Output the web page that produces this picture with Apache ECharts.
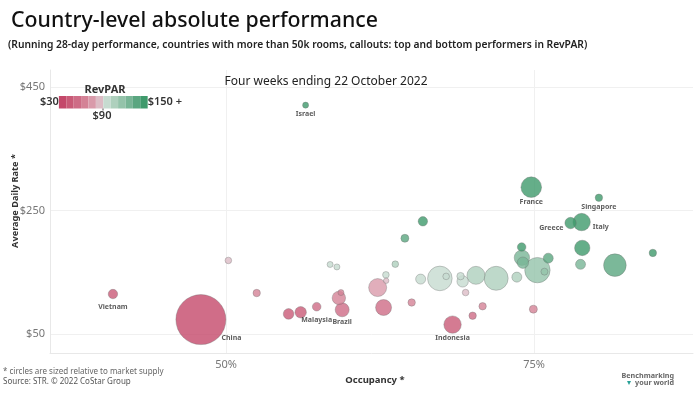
<!DOCTYPE html>
<html><head><meta charset="utf-8">
<script src="https://cdn.jsdelivr.net/npm/echarts@6/dist/echarts.min.js"></script>
<style>html,body{margin:0;padding:0;background:#fff}#c{width:700px;height:394px}</style>
</head><body><div id="c"></div>
<script>
// ---- data ----
const names = ['Israel','Vietnam','China','','','','','Malaysia','','','','','Brazil','','','','','','','','','','','','Indonesia','','','','','','','','','','','','France','','','','','Greece','','Italy','','Singapore','',''];
const occupancy = [56.45,40.81,47.95,50.18,52.48,55.07,56.05,57.35,58.44,58.99,59.32,59.15,59.42,62.30,62.78,62.97,62.99,63.73,64.51,65.06,65.79,65.97,67.35,67.86,68.38,69.03,69.20,69.44,70.01,70.28,70.82,71.92,73.60,73.99,74.01,74.09,74.77,74.94,75.27,75.84,76.15,77.96,78.77,78.86,78.91,80.26,81.56,84.64];
const adr = [420.5,114.5,73.1,168.9,116.1,82.3,85.0,94.0,162.4,158.4,116.9,108.2,89.0,125.0,92.7,145.6,136.0,162.9,204.8,100.8,138.7,232.3,139.8,143.1,65.0,143.5,135.0,116.9,79.4,144.8,94.7,140.0,141.9,190.6,173.4,165.3,287.6,90.0,153.2,150.8,172.6,229.5,162.6,231.1,189.2,270.5,161.3,181.1];
const supply = [68,166,4688,82,103,211,244,139,68,68,68,337,368,608,480,82,55,82,120,103,188,166,1135,82,568,103,244,82,103,608,103,1080,188,139,445,244,796,120,1210,92,188,244,188,568,445,103,958,103];
const xTicks = [50, 75];
const yTicks = [50, 250, 450];
const revparBreaks = [40,50,60,70,80,90,100,110,120,130,140];
const revparEnds = ['$30', '$150 +'];
const revparMid = '$90';

// ---- styles ----
const pieceColors = ['#c4486a','#c95a77','#ce6c86','#d48296','#d99aaa','#dcbcc5','#c6dbd0','#aed0bd','#94c3aa','#78b596','#5aa680','#3f9a6c'];
const labelCfg = {
  Israel:{position:'bottom',distance:2},
  Vietnam:{position:'bottom',distance:4},
  China:{position:[46,44],verticalAlign:'middle',align:'left'},
  Malaysia:{position:'bottom',distance:5},
  Brazil:{position:'bottom',distance:1},
  Indonesia:{position:'bottom',distance:1},
  France:{position:'bottom',distance:1},
  Singapore:{position:'bottom',distance:2},
  Greece:{position:'left',distance:1,offset:[0,5]},
  Italy:{position:'right',distance:2,offset:[0,5]}
};

const pieces = [];
pieces.push({lt: revparBreaks[0]});
for (let i = 0; i < revparBreaks.length - 1; i++) pieces.push({gte: revparBreaks[i], lt: revparBreaks[i+1]});
pieces.push({gte: revparBreaks[revparBreaks.length-1]});
pieces.forEach((p,i)=>{ p.color = pieceColors[i]; });

const pts = names.map((n,i)=>({
  value:[occupancy[i], adr[i], supply[i], occupancy[i]/100*adr[i]],
  name:n,
  label: n ? Object.assign({show:true}, labelCfg[n]) : {show:false}
}));
pts.sort((a,b)=>b.value[2]-a.value[2]);

const FONT = 'Noto Sans';
const chart = echarts.init(document.getElementById('c'), null, {renderer:'canvas'});
chart.setOption({
  backgroundColor:'#fff',
  animation:false,
  textStyle:{fontFamily:FONT},
  title:[
    {text:'Country-level absolute performance', left:11, top:10, padding:0, textStyle:{fontFamily:FONT, fontSize:21.3, fontWeight:500, color:'#111'}},
    {text:'(Running 28-day performance, countries with more than 50k rooms, callouts: top and bottom performers in RevPAR)', left:8, top:40, padding:0, textStyle:{fontFamily:FONT, fontSize:10.25, fontWeight:600, color:'#222'}},
    {text:'Four weeks ending 22 October 2022', left:326, top:76, padding:0, textAlign:'center', textStyle:{fontFamily:FONT, fontSize:12, fontWeight:'normal', color:'#222'}}
  ],
  grid:{left:50, right:7, top:70, bottom:41, containLabel:false},
  xAxis:{type:'value', min:35.7, max:87.9,
    axisLine:{show:true, lineStyle:{color:'#e8e8e8'}},
    axisTick:{show:false, customValues:xTicks},
    axisLabel:{customValues:xTicks, formatter:v=>v+'%', color:'#777', fontSize:11, margin:6},
    splitLine:{show:true, lineStyle:{color:'#f0f0f0'}}
  },
  yAxis:{type:'value', min:19, max:477.4,
    axisLine:{show:true, lineStyle:{color:'#e8e8e8'}},
    axisTick:{show:false, customValues:yTicks},
    axisLabel:{customValues:yTicks, formatter:v=>'$'+v, color:'#777', fontSize:11, margin:5},
    splitLine:{show:true, lineStyle:{color:'#f0f0f0'}}
  },
  visualMap:{type:'piecewise', dimension:3, seriesIndex:0, orient:'horizontal',
    left:25, top:81, itemWidth:7.4, itemHeight:12.5, itemGap:0, itemSymbol:'rect',
    text:[revparEnds[1], revparEnds[0]], textGap:3,
    textStyle:{fontFamily:FONT, fontSize:11, fontWeight:600, color:'#333'},
    pieces:pieces, selectedMode:false, hoverLink:false
  },
  series:[{
    type:'scatter',
    data:pts,
    symbolSize:v=>2*Math.sqrt(v[2]/7.5),
    itemStyle:{opacity:0.8, borderColor:'rgba(110,110,110,0.55)', borderWidth:0.8},
    label:{formatter:p=>p.name, fontFamily:FONT, fontSize:7, fontWeight:'bold', color:'#333'},
    emphasis:{disabled:true}
  }],
  graphic:[
    {type:'text', z:100, x:105, y:90, style:{text:'RevPAR', font:'bold 11px "Noto Sans"', fill:'#333', align:'center', verticalAlign:'middle'}},
    {type:'text', z:100, x:102, y:116, style:{text:revparMid, font:'600 11px "Noto Sans"', fill:'#333', align:'center', verticalAlign:'middle'}},
    {type:'rect', z:100, shape:{x:102.5, y:108.5, width:1, height:2}, style:{fill:'#555'}},
    {type:'text', z:100, x:15.7, y:201, rotation:Math.PI/2, style:{text:'Average Daily Rate *', font:'bold 9.2px "Noto Sans"', fill:'#333', align:'center', verticalAlign:'middle'}},
    {type:'text', z:100, x:375, y:380, style:{text:'Occupancy *', font:'bold 9.5px "Noto Sans"', fill:'#333', align:'center', verticalAlign:'middle'}},
    {type:'text', z:100, x:3, y:372, style:{text:'* circles are sized relative to market supply', font:'8px "Noto Sans"', fill:'#666', verticalAlign:'middle'}},
    {type:'text', z:100, x:3, y:382, style:{text:'Source: STR. \u00A9 2022 CoStar Group', font:'8px "Noto Sans"', fill:'#555', verticalAlign:'middle'}},
    {type:'text', z:100, x:674, y:376, style:{text:'Benchmarking', font:'bold 7.2px "Noto Sans"', fill:'#666', align:'right', verticalAlign:'middle'}},
    {type:'text', z:100, x:674, y:383, style:{text:'your world', font:'bold 7.2px "Noto Sans"', fill:'#666', align:'right', verticalAlign:'middle'}},
    {type:'text', z:100, x:629, y:383, style:{text:'\u25BE', font:'8px "DejaVu Sans"', fill:'#2aa198', align:'center', verticalAlign:'middle'}}
  ]
});
</script></body></html>
